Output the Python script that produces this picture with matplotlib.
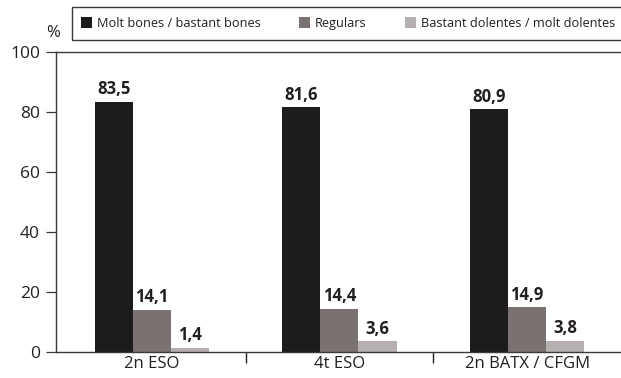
import numpy as np
import matplotlib; matplotlib.use("Agg")
import matplotlib.pyplot as plt
from matplotlib.patches import Rectangle
from matplotlib.ticker import FixedLocator

plt.rcParams["font.family"] = ["Open Sans", "DejaVu Sans"]

categories = ["2n ESO", "4t ESO", "2n BATX / CFGM"]
series = ["Molt bones / bastant bones", "Regulars", "Bastant dolentes / molt dolentes"]
bons = [83.5, 81.6, 80.9]
regulars = [14.1, 14.4, 14.9]
dolents = [1.4, 3.6, 3.8]
colors = ["#1d1b1c", "#7a7171", "#b5afb0"]
INK = "#231f20"

W, H = 621, 378
fig = plt.figure(figsize=(W / 100, H / 100), dpi=100)
ax = fig.add_axes([56 / W, 26 / H, 565 / W, 300 / H])

x = np.arange(len(categories))
w = 0.203
for i, (vals, lab, c) in enumerate(zip([bons, regulars, dolents], series, colors)):
    bars = ax.bar(x + (i - 1) * w, vals, width=w, color=c, label=lab)
    for r, v in zip(bars, vals):
        ax.annotate(f"{v:.1f}".replace(".", ","), (r.get_x() + r.get_width() / 2, v),
                    xytext=(0, 5.5), textcoords="offset points", ha="center", va="baseline",
                    fontsize=12, fontweight="bold", color=INK)

ax.set_xlim(-0.51, 2.5)
ax.set_ylim(0, 100)
ax.set_yticks([0, 20, 40, 60, 80, 100])
ax.set_xticks(x)
ax.set_xticklabels(categories, fontsize=12, color=INK)
ax.tick_params(axis="x", length=0, pad=3)
ax.xaxis.set_minor_locator(FixedLocator([0.5, 1.5]))
ax.tick_params(axis="x", which="minor", length=8, width=1, color=INK)
ax.tick_params(axis="y", length=7, width=0.9, pad=4.5, labelsize=12.5, labelcolor=INK, color="#3a3a3a")
for s in ["left", "bottom", "top"]:
    ax.spines[s].set_color("#3a3a3a")
    ax.spines[s].set_linewidth(1.0)
ax.spines["right"].set_visible(False)

fig.text(46 / W, 1 - 33 / H, "%", fontsize=12, color=INK, ha="left", va="center")

fig.patches.append(Rectangle((72 / W, 1 - 40 / H), 560 / W, 33 / H, transform=fig.transFigure,
                             fill=False, edgecolor="#3a3a3a", lw=1.0, clip_on=False))
fig.legend(loc="center left", bbox_to_anchor=(81 / W, 1 - 23.5 / H), ncol=3, fontsize=9.2,
           frameon=False, handlelength=0.85, handleheight=0.85, handletextpad=0.4,
           columnspacing=3.0, borderpad=0, borderaxespad=0, labelcolor=INK)

fig.savefig("out.png", dpi=100)
